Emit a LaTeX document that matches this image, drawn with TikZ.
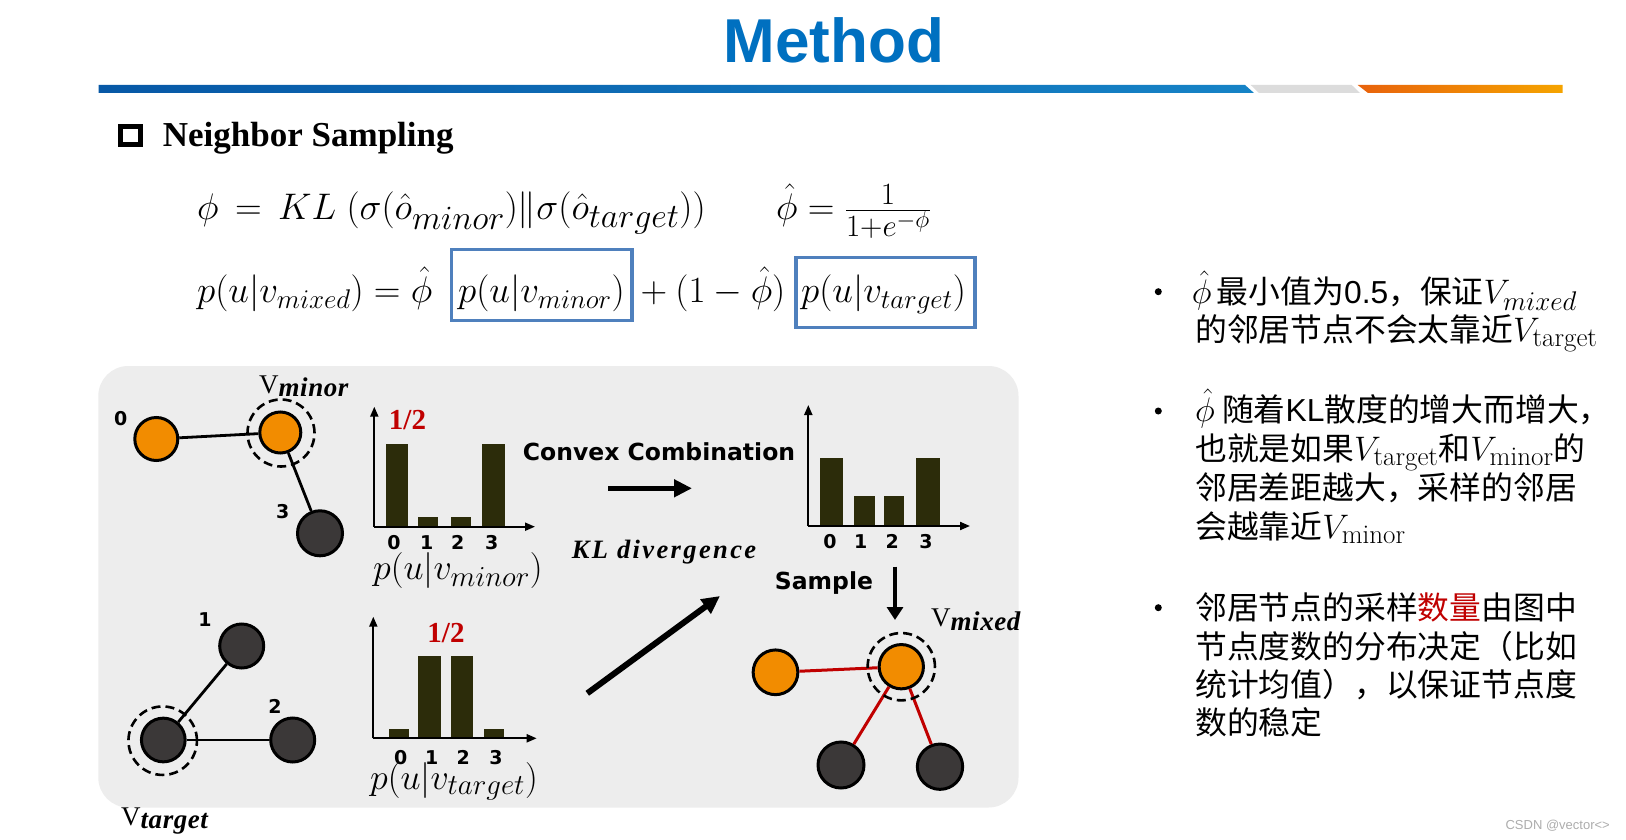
\RequirePackage{fix-cm}
\documentclass[tikz,border=0pt]{standalone}
\usepackage{fontspec}
\usetikzlibrary{arrows.meta}
\newfontfamily\tnr{Liberation Serif}
\newfontfamily\tnrls{Liberation Serif}[LetterSpace=9]
\newfontfamily\tnrvs{Liberation Serif}[LetterSpace=2]
\newfontfamily\arial{Liberation Sans}
\newfontfamily\djv{DejaVu Sans}
\newfontfamily\cjk{Noto Sans CJK SC}
\DeclareMathSizes{37}{37}{27}{20}
\DeclareMathSizes{37.2}{37}{31}{24}
\DeclareMathSizes{37.5}{37}{34}{24}
\DeclareMathSizes{36}{36}{29}{20}
\DeclareMathSizes{31.8}{34}{27}{19}
\definecolor{titleblue}{HTML}{0070C0}
\definecolor{blA}{HTML}{0758A6}
\definecolor{blB}{HTML}{1683C6}
\definecolor{grayseg}{HTML}{DCDCDC}
\definecolor{orA}{HTML}{E8620C}
\definecolor{orB}{HTML}{F5A400}
\definecolor{panel}{HTML}{EDEDED}
\definecolor{nodeorange}{HTML}{F28C00}
\definecolor{nodedark}{HTML}{3B3838}
\definecolor{barC}{HTML}{2C2C0A}
\definecolor{redC}{HTML}{C00000}
\definecolor{boxblue}{HTML}{4F80BD}
\tikzset{
  orangenode/.style={circle, draw=black, line width=3pt, fill=nodeorange, minimum size=43pt, inner sep=0pt},
  darknode/.style={circle, draw=black, line width=3pt, fill=nodedark, minimum size=45pt, inner sep=0pt},
  ringnode/.style={circle, draw=black, line width=2.6pt, dash pattern=on 9pt off 5pt, minimum size=#1, inner sep=0pt},
  ringnode/.default=68pt,
  edge/.style={line width=2.8pt, black},
  rededge/.style={line width=3pt, redC},
  axis/.style={line width=2pt, -{Triangle[length=10pt,width=8pt]}},
  tick/.style={anchor=base, inner sep=0pt, font=\djv\bfseries\fontsize{19}{19}\selectfont},
  numlabel/.style={inner sep=0pt, font=\djv\bfseries\fontsize{19}{19}\selectfont},
  half/.style={inner sep=0pt, text=redC, font=\tnr\bfseries\fontsize{29}{29}\selectfont},
  vlabel/.style={anchor=base west, inner sep=0pt, font=\tnr\fontsize{27}{27}\selectfont},
  distlabel/.style={anchor=base west, inner sep=0pt, font=\fontsize{36}{36}\selectfont},
  fml/.style={inner sep=0pt, font=\fontsize{37}{40}\selectfont},
  fmlfrac/.style={inner sep=0pt, font=\fontsize{37.2}{40}\selectfont},
  fmlwide/.style={inner sep=0pt, font=\fontsize{37.5}{40}\selectfont},
  sansbold/.style={inner sep=0pt, font=\djv\bfseries\fontsize{23.5}{23.5}\selectfont},
  bigarrow/.style={line width=5.3pt, -{Triangle[length=18pt,width=17pt]}},
  cjkline/.style={anchor=base west, inner sep=0pt, font=\cjk\fontsize{31.8}{31.8}\selectfont},
  bulletdot/.style={circle, fill=black, minimum size=7pt, inner sep=0pt},
  hlbox/.style={draw=boxblue, line width=3.3pt, inner sep=0pt},
}
\newcommand{\subbi}[1]{\raisebox{-3.5pt}{\tnrvs\bfseries\itshape #1}}
\begin{document}
\begin{tikzpicture}[x=1pt,y=-1pt]
\useasboundingbox (0,0) rectangle (1626,840);
\fill[white] (0,0) rectangle (1626,840);

% title and bar
\node[anchor=base, inner sep=0pt, text=titleblue, font=\arial\bfseries\fontsize{62}{62}\selectfont] (title) at (833.8,62.7) {Method};
\shade[left color=blA, right color=blB] (98.5,85) -- (1245,85) -- (1254,93) -- (98.5,93) -- cycle;
\fill[grayseg] (1250.7,85) -- (1351.7,85) -- (1360,93) -- (1259,93) -- cycle;
\shade[left color=orA, right color=orB] (1357.7,85) -- (1562.7,85) -- (1562.7,93) -- (1368,93) -- cycle;

% heading
\node[draw=black, line width=5pt, minimum width=20pt, minimum height=17.5pt, inner sep=0pt] (chk) at (130,135.3) {};
\node[anchor=base west, inner sep=0pt, font=\tnr\bfseries\fontsize{35}{35}\selectfont] (heading) at (162.7,146.7) {Neighbor Sampling};

% formulas
\node[fmlwide, anchor=base west] (f1a) at (197,219.5) {$\phi \,=\, KL\;(\sigma(\hat{o}_{minor})\|\sigma(\hat{o}_{target}))$};
\node[fmlfrac, anchor=base west] (f1b) at (776,219.5) {$\hat{\phi} = \frac{1}{1+e^{-\phi}}$};
\node[fml, anchor=base west] (f2a) at (197,302.5) {$p(u|v_{mixed}) = \hat{\phi}$};
\node[fml, anchor=base] (f2b) at (541.5,302.5) {$p(u|v_{minor})$};
\node[fml, anchor=base] (f2c) at (713,302.5) {$+\:(1-\hat{\phi})$};
\node[fml, anchor=base] (f2d) at (883.5,302.5) {$p(u|v_{target})$};
\node[hlbox, minimum width=180.3pt, minimum height=71pt] (boxA) at (541.75,285.15) {};
\node[hlbox, minimum width=179pt, minimum height=70pt] (boxB) at (885.5,292.4) {};

% panel
\fill[panel, rounded corners=30pt] (98.3,366) rectangle (1018.5,807.5);

% graph 1
\node[orangenode] (n0) at (156.3,439) {};
\node[orangenode, minimum size=41pt] (nminor) at (280.3,432.5) {};
\node[darknode] (n3) at (320,533.3) {};
\draw[edge] (n0) -- (nminor);
\draw[edge] (nminor) -- (n3);
\node[ringnode=67pt] (rminor) at (281,433) {};
\node[numlabel] (l0) at (120.7,418.3) {0};
\node[numlabel] (l3) at (282.7,511.7) {3};
\node[vlabel] (vminor) at (259,393.3) {V\subbi{minor}};

% graph 2
\node[darknode, minimum size=44pt] (n1) at (241.7,646) {};
\node[darknode, minimum size=43.7pt] (nt) at (163.3,740) {};
\node[darknode, minimum size=44pt] (n2) at (292.7,740) {};
\draw[edge] (nt) -- (n1);
\draw[edge] (nt) -- (n2);
\node[ringnode=68.5pt] (rt) at (162.7,740.7) {};
\node[numlabel] (l1) at (205,620) {1};
\node[numlabel] (l2) at (275,706.7) {2};
\node[vlabel] (vtarget) at (121,825) {V\subbi{target}};

% chart 1
\fill[barC] (385.7,526.7) rectangle (408.3,444);
\fill[barC] (418.3,526.7) rectangle (438.3,516.7);
\fill[barC] (451,526.7) rectangle (470.7,516.7);
\fill[barC] (481.7,526.7) rectangle (505,444);
\coordinate (o1) at (374.3,526.7);
\coordinate (y1) at (374.3,406.7);
\coordinate (x1) at (535,526.7);
\draw[axis] (o1) -- (y1);
\draw[axis] (o1) -- (x1);
\node[half] (h1) at (407.5,420) {1/2};
\node[tick] (t10) at (394,549.5) {0};
\node[tick] (t11) at (426.7,549.5) {1};
\node[tick] (t12) at (457.7,549.5) {2};
\node[tick] (t13) at (491.7,549.5) {3};
\node[distlabel] (d1) at (373,579.5) {$p(u|v_{minor})$};

% chart 2
\fill[barC] (389,738.3) rectangle (409.3,729.3);
\fill[barC] (418.3,738.3) rectangle (440.7,656);
\fill[barC] (451,738.3) rectangle (473.3,656);
\fill[barC] (484.3,738.3) rectangle (504.3,729.3);
\coordinate (o2) at (373.3,738.3);
\coordinate (y2) at (373.3,616.7);
\coordinate (x2) at (536.7,738.3);
\draw[axis] (o2) -- (y2);
\draw[axis] (o2) -- (x2);
\node[half] (h2) at (446,633) {1/2};
\node[tick] (t20) at (400.7,764.8) {0};
\node[tick] (t21) at (431.7,764.8) {1};
\node[tick] (t22) at (463.3,764.8) {2};
\node[tick] (t23) at (496,764.8) {3};
\node[distlabel] (d2) at (370,789) {$p(u|v_{target})$};

% middle texts and arrows
\node[sansbold] (convex) at (659,452) {Convex Combination};
\coordinate (ca1) at (608.3,488.3);
\coordinate (ca2) at (692,488.3);
\draw[bigarrow] (ca1) -- (ca2);
\node[anchor=base, inner sep=0pt, font=\tnrls\bfseries\itshape\fontsize{26.5}{26.5}\selectfont] (kl) at (664,558.3) {KL divergence};
\coordinate (da1) at (587.3,693.3);
\coordinate (da2) at (720,596);
\draw[bigarrow, line width=6pt] (da1) -- (da2);

% chart 3
\fill[barC] (820,526) rectangle (843.3,458.3);
\fill[barC] (854,526) rectangle (874.7,496);
\fill[barC] (884,526) rectangle (904,496);
\fill[barC] (916,526) rectangle (940,458.3);
\coordinate (o3) at (808.3,526);
\coordinate (y3) at (808.3,405);
\coordinate (x3) at (970,526);
\draw[axis] (o3) -- (y3);
\draw[axis] (o3) -- (x3);
\node[tick] (t30) at (830,548.2) {0};
\node[tick] (t31) at (860.7,548.2) {1};
\node[tick] (t32) at (892.3,548.2) {2};
\node[tick] (t33) at (926,548.2) {3};

\node[sansbold] (sample) at (824,583.3) {Sample};
\coordinate (sa1) at (895,566.7);
\coordinate (sa2) at (895,620);
\draw[line width=4.7pt, -{Triangle[length=13pt,width=16pt]}] (sa1) -- (sa2);

% mixed graph
\node[orangenode, minimum size=44.7pt] (ml) at (775.5,672.3) {};
\node[orangenode, minimum size=44.3pt] (mc) at (901.3,666.7) {};
\node[darknode, minimum size=46pt] (mb1) at (841,765) {};
\node[darknode, minimum size=45.3pt] (mb2) at (940,766.7) {};
\draw[rededge] (ml) -- (mc);
\draw[rededge] (mc) -- (mb1);
\draw[rededge] (mc) -- (mb2);
\node[ringnode=67.3pt] (rm) at (901.3,666.7) {};
\node[vlabel] (vmixed) at (931,626.5) {V\subbi{mixed}};

% right bullets
\node[bulletdot] (b1) at (1158.3,291.7) {};
\node[cjkline] (b1l1) at (1191.7,303) {$\hat{\phi}$\,最小值为{\arial 0.5}，保证$V_{mixed}$};
\node[cjkline] (b1l2) at (1195,341.5) {的邻居节点不会太靠近$V_{\mathrm{target}}$};
\node[bulletdot] (b2) at (1158.3,411) {};
\node[cjkline] (b2l1) at (1195,421.5) {$\hat{\phi}$ 随着{\arial KL}散度的增大而增大，};
\node[cjkline] (b2l2) at (1195,460) {也就是如果$V_{\mathrm{target}}$和$V_{\mathrm{minor}}$的};
\node[cjkline] (b2l3) at (1195,499) {邻居差距越大，采样的邻居};
\node[cjkline] (b2l4) at (1195,538) {会越靠近$V_{\mathrm{minor}}$};
\node[bulletdot] (b3) at (1158.3,607.7) {};
\node[cjkline] (b3l1) at (1195,619.5) {邻居节点的采样\textcolor{redC}{数量}由图中};
\node[cjkline] (b3l2) at (1195,658) {节点度数的分布决定（比如};
\node[cjkline] (b3l3) at (1195,696.5) {统计均值），以保证节点度};
\node[cjkline] (b3l4) at (1195,734) {数的稳定};

\node[anchor=east, inner sep=0pt, text=black!32, font=\arial\fontsize{13}{13}\selectfont] (wm) at (1610,826) {CSDN @vector<>};
\end{tikzpicture}
\end{document}
